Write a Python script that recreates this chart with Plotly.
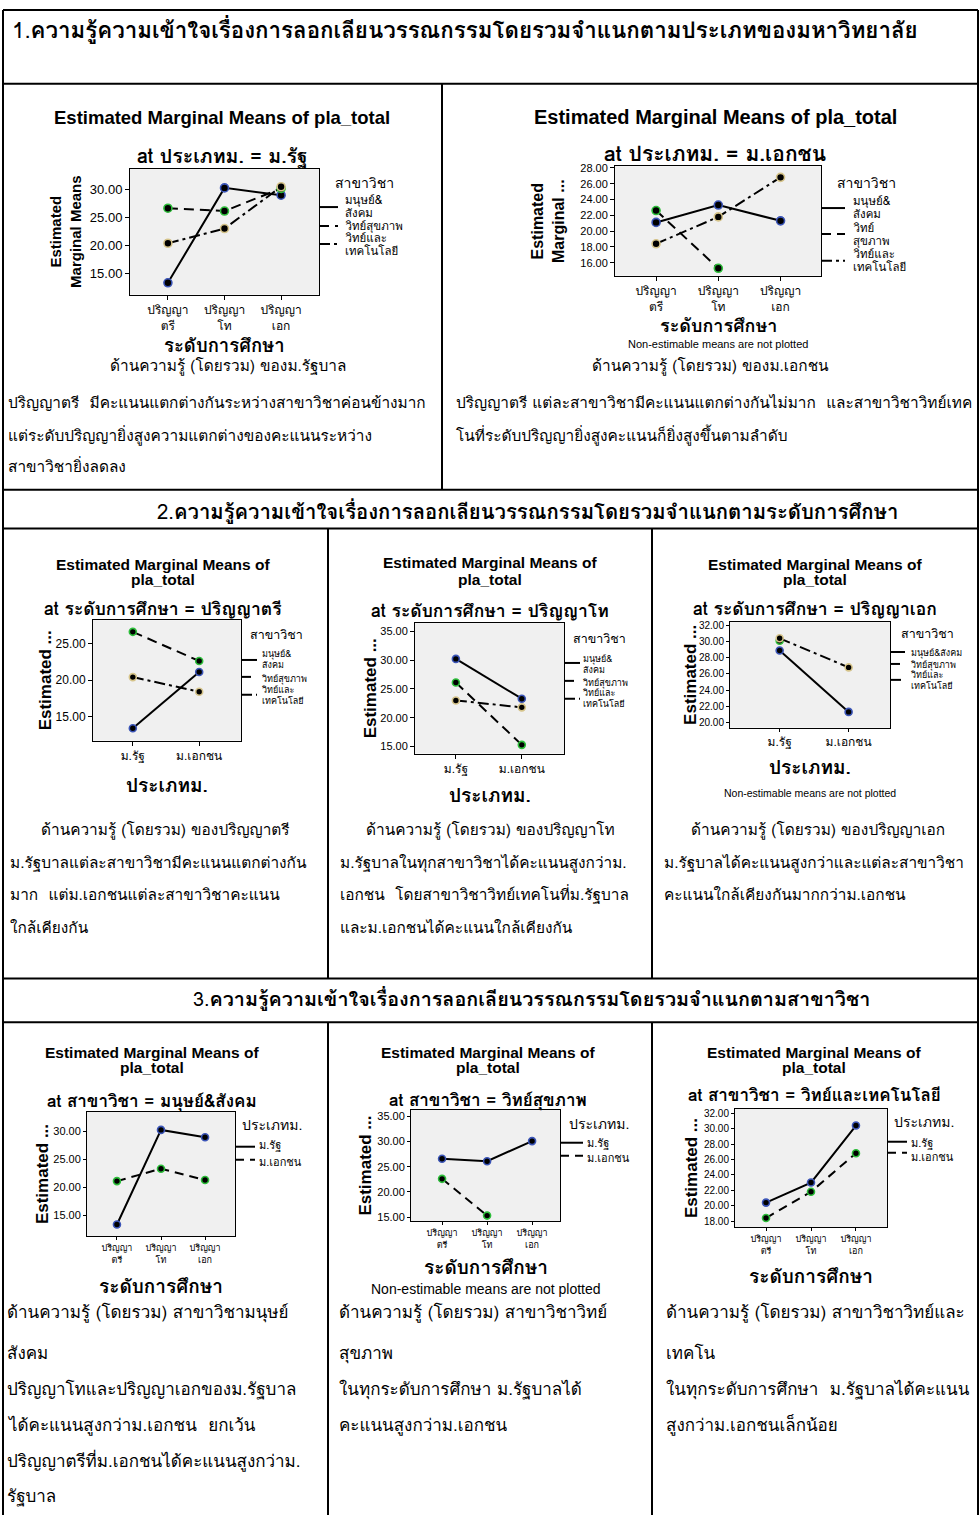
import plotly.graph_objects as go

# ---------------- data ----------------
levels = ["ปริญญาตรี", "ปริญญาโท", "ปริญญาเอก"]
level_ticks = ["ปริญญา<br>ตรี", "ปริญญา<br>โท", "ปริญญา<br>เอก"]
uni_types = ["ม.รัฐ", "ม.เอกชน"]
fields = ["มนุษย์&สังคม", "วิทย์สุขภาพ", "วิทย์และเทคโนโลยี"]

# estimated marginal means (public university), by level ตรี/โท/เอก
public_human = [13.4, 30.2, 28.9]
public_health = [26.6, 26.1, 30.1]
public_tech = [20.4, 23.0, 30.4]
# private university
private_human = [21.1, 23.3, 21.3]
private_health = [22.6, 15.3, None]
private_tech = [18.4, 21.8, 26.8]

public = [public_human, public_health, public_tech]
private = [private_human, private_health, private_tech]

# ---------------- helpers ----------------
W, H = 980, 1517
def px(x):
    return x / W
def py(y):
    return 1 - y / H

LAT = "Liberation Sans, Arial, sans-serif"
THAI = "Loma, Garuda, Tlwg Typo, Noto Sans Thai Looped, Noto Sans Thai, Tahoma, sans-serif"

field_colors = ["#3B55B8", "#2DBE3A", "#D6C48A"]
field_dash = ["solid", "10px,6px", "11px,4px,3px,4px"]
uni_colors = ["#3B55B8", "#2DBE3A"]
uni_dash = ["solid", "9px,6px"]

fig = go.Figure()
annotations = []
shapes = []

def ann(text, x, y, size, bold=False, anchor="center", family=THAI, angle=0, color="black"):
    t = f"<b>{text}</b>" if bold else text
    annotations.append(dict(text=t, x=px(x), y=py(y), xref="paper", yref="paper",
                            xanchor=anchor, yanchor="middle", showarrow=False,
                            textangle=angle, font=dict(family=family, size=size, color=color)))

# chart layout specs (positions in page pixels)
charts = [
    dict(box=(130, 319, 165, 291), yr=(11.3, 33.5), dt=5, xr=(-0.67, 2.67), kind="level_uni", uni=0,
         title=["Estimated Marginal Means of pla_total"], ty=[113], tx=222, tsz=18.5,
         sub="at ประเภทม. = ม.รัฐ", suby=152, subsz=19.5,
         xt="ระดับการศึกษา", xty=342, xtsz=18.5, yt="Estimated<br>Marginal Means", ytx=66, ytsz=15,
         note=None, ytick=13, xtick=12, ms=8, tl=4,
         leg=dict(title=("สาขาวิชา", 333, 179, 14), lx=(319, 338), tx=343, fs=11.5,
                  items=[(203, [("มนุษย์&", 196), ("สังคม", 209)]),
                         (222, [("วิทย์สุขภาพ", 222)]),
                         (240, [("วิทย์และ", 234), ("เทคโนโลยี", 247)])])),
    dict(box=(615, 821, 162, 272), yr=(14.36, 28.2), dt=2, xr=(-0.66, 2.65), kind="level_uni", uni=1,
         title=["Estimated Marginal Means of pla_total"], ty=[113], tx=715, tsz=20,
         sub="at ประเภทม. = ม.เอกชน", suby=149, subsz=21,
         xt="ระดับการศึกษา", xty=322, xtsz=18, yt="Estimated<br>Marginal ...", ytx=548, ytsz=16,
         note=("Non-estimable means are not plotted", 341, 11), ytick=11, xtick=12, ms=8, tl=4,
         leg=dict(title=("สาขาวิชา", 835, 179, 14), lx=(821, 845), tx=851, fs=11.5,
                  items=[(204, [("มนุษย์&", 197), ("สังคม", 210)]),
                         (230, [("วิทย์", 224), ("สุขภาพ", 237)]),
                         (257, [("วิทย์และ", 250), ("เทคโนโลยี", 263)])])),
    dict(box=(93, 241, 618, 739), yr=(11.7, 28.2), dt=5, xr=(-0.6, 1.63), kind="uni_level", lvl=0,
         title=["Estimated Marginal Means of", "pla_total"], ty=[562, 577], tx=163, tsz=15.5,
         sub="at ระดับการศึกษา = ปริญญาตรี", suby=607, subsz=17.5,
         xt="ประเภทม.", xty=784, xtsz=19, yt="Estimated ...", ytx=45, ytsz=17,
         note=None, ytick=12, xtick=12, ms=7, tl=4,
         leg=dict(title=("สาขาวิชา", 248, 633, 12.5), lx=(241, 257), tx=260, fs=9,
                  items=[(658, [("มนุษย์&", 652), ("สังคม", 663)]),
                         (675, [("วิทย์สุขภาพ", 677)]),
                         (693, [("วิทย์และ", 688), ("เทคโนโลยี", 699)])])),
    dict(box=(415, 564, 621, 752), yr=(13.8, 36.4), dt=5, xr=(-0.62, 1.64), kind="uni_level", lvl=1,
         title=["Estimated Marginal Means of", "pla_total"], ty=[560, 577], tx=490, tsz=15.5,
         sub="at ระดับการศึกษา = ปริญญาโท", suby=609, subsz=17.5,
         xt="ประเภทม.", xty=794, xtsz=19, yt="Estimated ...", ytx=370, ytsz=17,
         note=None, ytick=11, xtick=12, ms=7, tl=4,
         leg=dict(title=("สาขาวิชา", 571, 637, 12.5), lx=(564, 580), tx=581, fs=9,
                  items=[(661, [("มนุษย์&", 657), ("สังคม", 668)]),
                         (679, [("วิทย์สุขภาพ", 681)]),
                         (697, [("วิทย์และ", 691), ("เทคโนโลยี", 702)])])),
    dict(box=(730, 890, 620, 726), yr=(19.35, 32.4), dt=2, xr=(-0.72, 1.6), kind="uni_level", lvl=2,
         title=["Estimated Marginal Means of", "pla_total"], ty=[562, 577], tx=815, tsz=15.5,
         sub="at ระดับการศึกษา = ปริญญาเอก", suby=607, subsz=17.5,
         xt="ประเภทม.", xty=766, xtsz=19, yt="Estimated ...", ytx=691, ytsz=17,
         note=("Non-estimable means are not plotted", 792, 10.5), ytick=10, xtick=12, ms=7, tl=3,
         leg=dict(title=("สาขาวิชา", 899, 632, 12.5), lx=(890, 905), tx=909, fs=9,
                  items=[(650, [("มนุษย์&สังคม", 651)]),
                         (662, [("วิทย์สุขภาพ", 663)]),
                         (678, [("วิทย์และ", 673), ("เทคโนโลยี", 684)])])),
    dict(box=(87, 235, 1112, 1237), yr=(11.3, 33.4), dt=5, xr=(-0.68, 2.68), kind="level_field", fld=0,
         title=["Estimated Marginal Means of", "pla_total"], ty=[1052, 1067], tx=152, tsz=15.5,
         sub="at สาขาวิชา = มนุษย์&สังคม", suby=1101, subsz=17,
         xt="ระดับการศึกษา", xty=1287, xtsz=19, yt="Estimated ...", ytx=42, ytsz=17,
         note=None, ytick=11, xtick=9, ms=7, tl=3,
         leg=dict(title=("ประเภทม.", 240, 1125, 14), lx=(235, 255), tx=257, fs=11,
                  items=[(1147, [("ม.รัฐ", 1145)]), (1160, [("ม.เอกชน", 1162)])])),
    dict(box=(411, 560, 1110, 1222), yr=(14.15, 36.3), dt=5, xr=(-0.69, 2.62), kind="level_field", fld=1,
         title=["Estimated Marginal Means of", "pla_total"], ty=[1052, 1067], tx=488, tsz=15.5,
         sub="at สาขาวิชา = วิทย์สุขภาพ", suby=1100, subsz=17,
         xt="ระดับการศึกษา", xty=1268, xtsz=19, yt="Estimated ...", ytx=366, ytsz=17,
         note=("Non-estimable means are not plotted", 1290, 14), ytick=11, xtick=9, ms=7, tl=3,
         leg=dict(title=("ประเภทม.", 567, 1124, 14), lx=(560, 583), tx=585, fs=11,
                  items=[(1143, [("ม.รัฐ", 1143)]), (1156, [("ม.เอกชน", 1158)])])),
    dict(box=(735, 887, 1109, 1228), yr=(17.19, 32.56), dt=2, xr=(-0.69, 2.69), kind="level_field", fld=2,
         title=["Estimated Marginal Means of", "pla_total"], ty=[1052, 1067], tx=814, tsz=15.5,
         sub="at สาขาวิชา = วิทย์และเทคโนโลยี", suby=1095, subsz=17,
         xt="ระดับการศึกษา", xty=1277, xtsz=19, yt="Estimated ...", ytx=691, ytsz=17,
         note=None, ytick=10, xtick=9, ms=7, tl=3,
         leg=dict(title=("ประเภทม.", 892, 1122, 14), lx=(887, 907), tx=909, fs=11,
                  items=[(1142, [("ม.รัฐ", 1143)]), (1153, [("ม.เอกชน", 1157)])])),
]

layout_axes = {}
for i, c in enumerate(charts, start=1):
    sfx = "" if i == 1 else str(i)
    xa, ya = f"x{sfx}", f"y{sfx}"
    x0, x1, y0, y1 = c["box"]
    if c["kind"] == "level_uni":
        src = public if c["uni"] == 0 else private
        series = [(levels, src[k]) for k in range(3)]
        cols, dashes = field_colors, field_dash
        tickvals, ticktext = levels, level_ticks
    elif c["kind"] == "uni_level":
        L = c["lvl"]
        series = [(uni_types, [public[k][L], private[k][L]]) for k in range(3)]
        cols, dashes = field_colors, field_dash
        tickvals, ticktext = uni_types, uni_types
    else:
        F = c["fld"]
        series = [(levels, public[F]), (levels, private[F])]
        cols, dashes = uni_colors, uni_dash
        tickvals, ticktext = levels, level_ticks
    for k, (xs, ys) in enumerate(series):
        fig.add_trace(go.Scatter(x=xs, y=ys, mode="lines", xaxis=xa, yaxis=ya,
                                 line=dict(color="black", width=2, dash=dashes[k]),
                                 showlegend=False, hoverinfo="skip"))
        fig.add_trace(go.Scatter(x=xs, y=ys, mode="markers", xaxis=xa, yaxis=ya,
                                 marker=dict(color="black", size=c["ms"],
                                             line=dict(color=cols[k], width=1.6)),
                                 showlegend=False, hoverinfo="skip"))
    axcommon = dict(showline=True, mirror=True, linecolor="black", linewidth=1,
                    ticks="outside", ticklen=c["tl"], tickcolor="black", showgrid=False,
                    zeroline=False)
    layout_axes[f"xaxis{sfx}"] = dict(domain=[px(x0), px(x1)], anchor=ya, type="category",
                                      range=list(c["xr"]), tickvals=tickvals, ticktext=ticktext,
                                      tickfont=dict(family=THAI, size=c["xtick"], color="black"),
                                      **axcommon)
    layout_axes[f"yaxis{sfx}"] = dict(domain=[py(y1), py(y0)], anchor=xa, range=list(c["yr"]),
                                      dtick=c["dt"], tick0=0, tickformat=".2f",
                                      tickfont=dict(family=LAT, size=c["ytick"], color="black"),
                                      **axcommon)
    # titles
    for t, yy in zip(c["title"], c["ty"]):
        ann(t, c["tx"], yy, c["tsz"], bold=True, family=LAT)
    ann(c["sub"], c["tx"], c["suby"], c["subsz"], bold=True)
    ann(c["xt"], (x0 + x1) / 2, c["xty"], c["xtsz"], bold=True)
    ann(c["yt"], c["ytx"], (y0 + y1) / 2, c["ytsz"], bold=True, family=LAT, angle=-90)
    if c["note"]:
        ann(c["note"][0], (x0 + x1) / 2, c["note"][1], c["note"][2], family=LAT)
    # SPSS-style legend (key lines + labels)
    lg = c["leg"]
    tt, tx_, ty_, tfs = lg["title"]
    ann(tt, tx_, ty_, tfs, anchor="left")
    for k, (ly, labels) in enumerate(lg["items"]):
        shapes.append(dict(type="line", xref="paper", yref="paper",
                           x0=px(lg["lx"][0]), x1=px(lg["lx"][1]), y0=py(ly), y1=py(ly),
                           line=dict(color="black", width=2, dash=dashes[k])))
        for lab, yy in labels:
            ann(lab, lg["tx"], yy, lg["fs"], anchor="left")

# ---------------- table text ----------------
ann("1.<b>ความรู้ความเข้าใจเรื่องการลอกเลียนวรรณกรรมโดยรวมจำแนกตามประเภทของมหาวิทยาลัย</b>", 10, 25, 22.3, anchor="left")
ann("2.<b>ความรู้ความเข้าใจเรื่องการลอกเลียนวรรณกรรมโดยรวมจำแนกตามระดับการศึกษา</b>", 527, 509, 20.3)
ann("3.<b>ความรู้ความเข้าใจเรื่องการลอกเลียนวรรณกรรมโดยรวมจำแนกตามสาขาวิชา</b>", 531, 999, 19.8)

BODY = 15.4
ann("ด้านความรู้ (โดยรวม) ของม.รัฐบาล", 228, 362, BODY)
for t, yy in zip(["ปริญญาตรี  มีคะแนนแตกต่างกันระหว่างสาขาวิชาค่อนข้างมาก",
                  "แต่ระดับปริญญายิ่งสูงความแตกต่างของคะแนนระหว่าง",
                  "สาขาวิชายิ่งลดลง"], [399, 432, 464]):
    ann(t, 6, yy, BODY, anchor="left")
ann("ด้านความรู้ (โดยรวม) ของม.เอกชน", 710, 362, BODY)
for t, yy in zip(["ปริญญาตรี แต่ละสาขาวิชามีคะแนนแตกต่างกันไม่มาก  และสาขาวิชาวิทย์เทค",
                  "โนที่ระดับปริญญายิ่งสูงคะแนนก็ยิ่งสูงขึ้นตามลำดับ"], [399, 432]):
    ann(t, 454, yy, BODY, anchor="left")

ann("ด้านความรู้ (โดยรวม) ของปริญญาตรี", 165, 828, BODY)
for t, yy in zip(["ม.รัฐบาลแต่ละสาขาวิชามีคะแนนแตกต่างกัน", "มาก  แต่ม.เอกชนแต่ละสาขาวิชาคะแนน", "ใกล้เคียงกัน"],
                 [861, 894, 927]):
    ann(t, 8, yy, BODY, anchor="left")
ann("ด้านความรู้ (โดยรวม) ของปริญญาโท", 490, 828, BODY)
for t, yy in zip(["ม.รัฐบาลในทุกสาขาวิชาได้คะแนนสูงกว่าม.", "เอกชน  โดยสาขาวิชาวิทย์เทคโนที่ม.รัฐบาล",
                  "และม.เอกชนได้คะแนนใกล้เคียงกัน"], [861, 894, 927]):
    ann(t, 338, yy, BODY, anchor="left")
ann("ด้านความรู้ (โดยรวม) ของปริญญาเอก", 818, 828, BODY)
for t, yy in zip(["ม.รัฐบาลได้คะแนนสูงกว่าและแต่ละสาขาวิชา", "คะแนนใกล้เคียงกันมากกว่าม.เอกชน"], [861, 894]):
    ann(t, 662, yy, BODY, anchor="left")

B3 = 17
rows3 = [1313, 1354, 1390, 1426, 1462, 1497]
for t, yy in zip(["ด้านความรู้ (โดยรวม) สาขาวิชามนุษย์", "สังคม", "ปริญญาโทและปริญญาเอกของม.รัฐบาล",
                  "ได้คะแนนสูงกว่าม.เอกชน  ยกเว้น", "ปริญญาตรีที่ม.เอกชนได้คะแนนสูงกว่าม.", "รัฐบาล"], rows3):
    ann(t, 5, yy, B3, anchor="left")
for t, yy in zip(["ด้านความรู้ (โดยรวม) สาขาวิชาวิทย์", "สุขภาพ", "ในทุกระดับการศึกษา ม.รัฐบาลได้",
                  "คะแนนสูงกว่าม.เอกชน"], rows3):
    ann(t, 337, yy, B3, anchor="left")
for t, yy in zip(["ด้านความรู้ (โดยรวม) สาขาวิชาวิทย์และ", "เทคโน", "ในทุกระดับการศึกษา  ม.รัฐบาลได้คะแนน",
                  "สูงกว่าม.เอกชนเล็กน้อย"], rows3):
    ann(t, 664, yy, B3, anchor="left")

# ---------------- table borders ----------------
def hline(y, xa=3, xb=978):
    shapes.append(dict(type="line", xref="paper", yref="paper", x0=px(xa), x1=px(xb), y0=py(y), y1=py(y),
                       line=dict(color="black", width=2)))
def vline(x, ya, yb):
    shapes.append(dict(type="line", xref="paper", yref="paper", x0=px(x), x1=px(x), y0=py(ya), y1=py(yb),
                       line=dict(color="black", width=2)))
hline(5); hline(79); hline(487); hline(526); hline(978); hline(1022)
vline(3, 5, 1517); vline(978, 5, 1517)
vline(442, 79, 487)
vline(328, 526, 978); vline(652, 526, 978)
vline(328, 1022, 1517); vline(652, 1022, 1517)

fig.update_layout(width=W, height=H, margin=dict(l=0, r=0, t=0, b=0),
                  paper_bgcolor="white", plot_bgcolor="#F0F0F0",
                  annotations=annotations, shapes=shapes, **layout_axes)
fig.write_html("out.html", config={"displayModeBar": False},
               post_script="document.body.style.margin='0';document.body.style.overflow='hidden';")
